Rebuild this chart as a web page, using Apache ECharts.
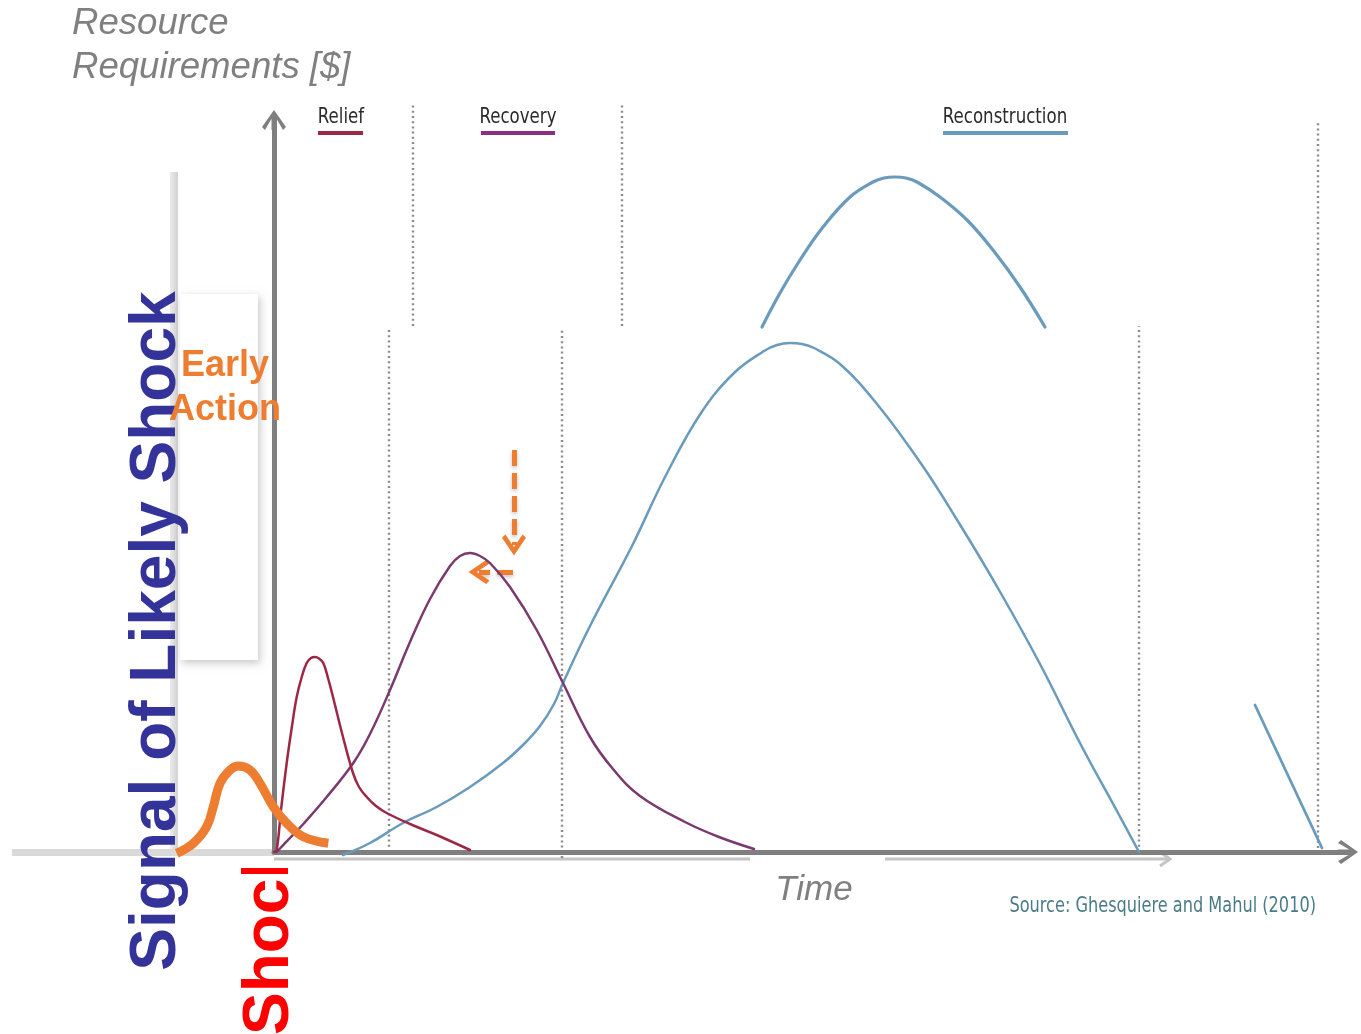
<!DOCTYPE html>
<html><head><meta charset="utf-8">
<script src="https://cdn.jsdelivr.net/npm/echarts@6/dist/echarts.min.js"></script>
<style>html,body{margin:0;padding:0;background:#fff}#c{width:1361px;height:1034px}</style>
</head><body><div id="c"></div>
<script>
// ---- data (x = time units, y = resource units) ----
const relief = [[0,0],[0.27,0.2],[0.7,4.2],[1.27,8.9],[1.8,12.6],[2.27,15.5],[2.8,17.6],[3.27,18.9],[3.7,19.4],[4.1,19.5],[4.5,19.35],[4.93,18.9],[5.4,17.4],[5.9,15.5],[6.9,11.5],[7.9,7.9],[8.5,6.5],[9.27,5.5],[10.2,4.6],[11.27,3.9],[13.6,2.8],[16.27,1.7],[19.6,0.2]];
const recovery = [[0.27,0],[1.5,1.3],[2.93,2.8],[5.27,5.5],[7.93,8.9],[9.6,11.8],[11.6,16.2],[13.6,21.0],[15.6,25.3],[17.6,28.6],[18.6,29.6],[19.6,29.9],[20.6,29.6],[21.6,28.9],[23.6,26.5],[26.27,22.2],[28.9,16.9],[31.6,11.5],[33.9,8.3],[36.6,5.6],[41.1,3.0],[44.5,1.5],[48.0,0.3]];
const reconstruction = [[6.9,-0.3],[9.6,0.9],[12.9,2.9],[16.27,4.5],[19.6,6.5],[22.9,8.9],[25.0,10.8],[26.6,12.6],[28.0,14.8],[28.9,16.9],[31.6,22.6],[35.8,30.6],[39.1,37.5],[42.7,43.9],[46.0,47.9],[49.0,50.1],[50.3,50.7],[51.6,50.9],[52.8,50.8],[54.0,50.4],[56.6,48.8],[60.3,44.8],[64.8,38.7],[68.5,32.9],[72.5,26.2],[76.6,18.8],[80.7,10.7],[84.4,3.9],[86.5,0]];
const reconstructionUpper = [[48.8,52.5],[50.6,55.9],[52.6,59.2],[54.9,62.5],[57.6,65.5],[59.9,67.0],[61.0,67.4],[62.1,67.5],[63.2,67.4],[64.3,67.0],[66.6,65.5],[69.3,63.2],[71.9,60.2],[74.6,56.5],[77.1,52.5]];
const reconstructionTail = [[98.1,14.7],[104.8,0.4]];
const earlySignal = [[-9.73,-0.13],[-8.07,0.87],[-6.73,2.53],[-6.07,4.53],[-5.4,6.87],[-4.4,8.2],[-3.57,8.6],[-2.4,8.2],[-1.4,6.87],[-0.07,4.53],[1.27,2.87],[2.93,1.53],[5.43,0.87]];
// phase boundaries: [x, yFrom, yTo]
const phaseBoundaries = [[13.9,52.6,74.8],[34.8,52.6,74.8],[104.4,0.4,73.2],[11.5,0,52.4],[28.8,-0.6,52.4],[86.5,0,52.6]];
// early-action arrows: [xFrom, yFrom, xTo, yTo]
const actionArrows = [[24.0,40.2,24.0,30.7],[23.9,28.0,20.5,28.0]];
const phaseNames = ['Relief','Recovery','Reconstruction'];
const yTitle = 'Resource\nRequirements [$]';
const xTitle = 'Time';
const sideLabel = 'Signal of Likely Shock';
const shockLabel = 'Shock';
const actionLabel = 'Early\nAction';
const sourceLabel = 'Source: Ghesquiere and Mahul (2010)';

const C_RELIEF = '#9c2846', C_RECOV = '#7b3a6f', C_RECON = '#6a9bbd', C_ORANGE = '#ed7d31', C_AXIS = '#7f7f7f';
const axisArrow = 'path://M0,17 L12,0 L24,17 L21,20 L14.5,8.7 L14.5,20 L9.5,20 L9.5,8.7 L3,20 Z';
const chevron = 'path://M0,16 L12,0 L24,16 L20.5,19 L12,7.5 L3.5,19 Z';
const condensed = "'Liberation Sans Narrow','DejaVu Sans Condensed','Roboto',sans-serif";
const arial = "'Liberation Sans',Arial,sans-serif";

const chart = echarts.init(document.getElementById('c'));

const series = [];
phaseBoundaries.forEach(function (b) {
  series.push({type:'line', xAxisIndex:1, yAxisIndex:1, data:[[b[0],b[1]],[b[0],b[2]]], symbol:'none', silent:true, z:3,
    lineStyle:{color:'#8c8c8c', width:2.4, type:[2,3.2]}});
});
function curve(data, color, width, z) {
  return {type:'line', xAxisIndex:1, yAxisIndex:1, data:data, symbol:'none', smooth:0.4, silent:true, z:z,
    lineStyle:{color:color, width:width, cap:'round', join:'round'}};
}
series.push(curve(reconstruction, C_RECON, 2.5, 5));
series.push(curve(reconstructionUpper, C_RECON, 3.2, 5));
series.push(curve(reconstructionTail, C_RECON, 2.8, 5));
series.push(curve(recovery, C_RECOV, 2.5, 5));
series.push(curve(relief, C_RELIEF, 2.5, 5));
const sig = curve(earlySignal, C_ORANGE, 9, 7);
sig.lineStyle.cap = 'butt';
sig.markLine = {silent:true, symbol:['none', chevron], symbolSize:[24,21], label:{show:false},
  lineStyle:{color:C_ORANGE, width:5, type:[16,7], shadowBlur:4, shadowColor:'rgba(0,0,0,0.25)', shadowOffsetY:2},
  data: actionArrows.map(function (a) { return [{coord:[a[0],a[1]]},{coord:[a[2],a[3]]}]; })};
series.push(sig);

const graphics = [
  // decorative pasted-slide remnants
  {type:'rect', z:0, shape:{x:170,y:172,width:8,height:680}, style:{fill:new echarts.graphic.LinearGradient(0,0,1,0,[{offset:0,color:'#ececec'},{offset:1,color:'#d0d0d0'}])}},
  {type:'rect', z:0, shape:{x:180,y:294,width:78,height:366}, style:{fill:'#fff', shadowBlur:8, shadowColor:'rgba(0,0,0,0.22)', shadowOffsetX:2, shadowOffsetY:3}},
  // shock label, top clipped by a white band
  {type:'text', z:0, x:270, y:939, rotation:Math.PI/2, style:{text:shockLabel, font:'bold 64px '+arial, fill:'#ff0000', align:'center', verticalAlign:'middle'}},
  {type:'rect', z:1, shape:{x:236,y:780,width:64,height:88}, style:{fill:'#fff'}},
  {type:'rect', z:2, shape:{x:12,y:849,width:262,height:7}, style:{fill:'#d9d9d9'}},
  {type:'line', z:2, shape:{x1:274,y1:859,x2:750,y2:859}, style:{stroke:'#c4c4c4', lineWidth:3}},
  {type:'line', z:2, shape:{x1:885,y1:859,x2:1168,y2:859}, style:{stroke:'#c4c4c4', lineWidth:3}},
  {type:'polyline', z:2, shape:{points:[[1160,852],[1170,859],[1160,866]]}, style:{stroke:'#c4c4c4', lineWidth:3, fill:null}},
  {type:'text', z:3, x:157, y:631, rotation:Math.PI/2, style:{text:sideLabel, font:'bold 64px '+arial, fill:'#333399', align:'center', verticalAlign:'middle'}},
  {type:'text', z:8, x:225, y:344, style:{text:actionLabel, font:'bold 36px '+arial, fill:C_ORANGE, align:'center', verticalAlign:'top', lineHeight:44}},
  {type:'text', z:3, x:72, y:2, style:{text:yTitle, font:'italic 36.6px '+arial, fill:'#808080', align:'left', verticalAlign:'top', lineHeight:44}},
  {type:'text', z:3, x:1316, y:907, scaleX:0.855, style:{text:sourceLabel, font:'21px '+condensed, fill:'#4a7c87', align:'right', verticalAlign:'middle'}}
];
const legendPos = [[341,318,363,C_RELIEF],[518,481,555,'#8b2f82'],[1005,943,1068,C_RECON]];
phaseNames.forEach(function (n, i) {
  const p = legendPos[i];
  graphics.push({type:'text', z:3, x:p[0], y:117, scaleX:0.84, style:{text:n, font:'22px '+condensed, fill:'#2a2a2a', align:'center', verticalAlign:'middle'}});
  graphics.push({type:'rect', z:3, shape:{x:p[1], y:131, width:p[2]-p[1], height:4}, style:{fill:p[3]}});
});

chart.setOption({
  animation:false,
  backgroundColor:'#ffffff',
  grid:[
    {left:274, right:13, top:120, bottom:182},
    {left:0, right:0, top:0, bottom:0}
  ],
  xAxis:[
    {type:'value', gridIndex:0, min:0, max:1, z:4, axisLabel:{show:false}, axisTick:{show:false}, splitLine:{show:false},
      axisLine:{show:true, symbol:['none', axisArrow], symbolSize:[24,20], lineStyle:{color:C_AXIS, width:5}},
      name:xTitle, nameLocation:'middle', nameGap:21, nameTextStyle:{fontFamily:arial, fontStyle:'italic', fontSize:35, color:'#808080', padding:[0,0,0,6]}},
    {type:'value', gridIndex:1, min:-27.4, max:108.7, show:false}
  ],
  yAxis:[
    {type:'value', gridIndex:0, min:0, max:1, z:4, axisLabel:{show:false}, axisTick:{show:false}, splitLine:{show:false},
      axisLine:{show:true, symbol:['none', axisArrow], symbolSize:[24,20], lineStyle:{color:C_AXIS, width:5}}},
    {type:'value', gridIndex:1, min:-18.2, max:85.2, show:false}
  ],
  graphic:{elements:graphics},
  series:series
});
</script>
</body></html>
